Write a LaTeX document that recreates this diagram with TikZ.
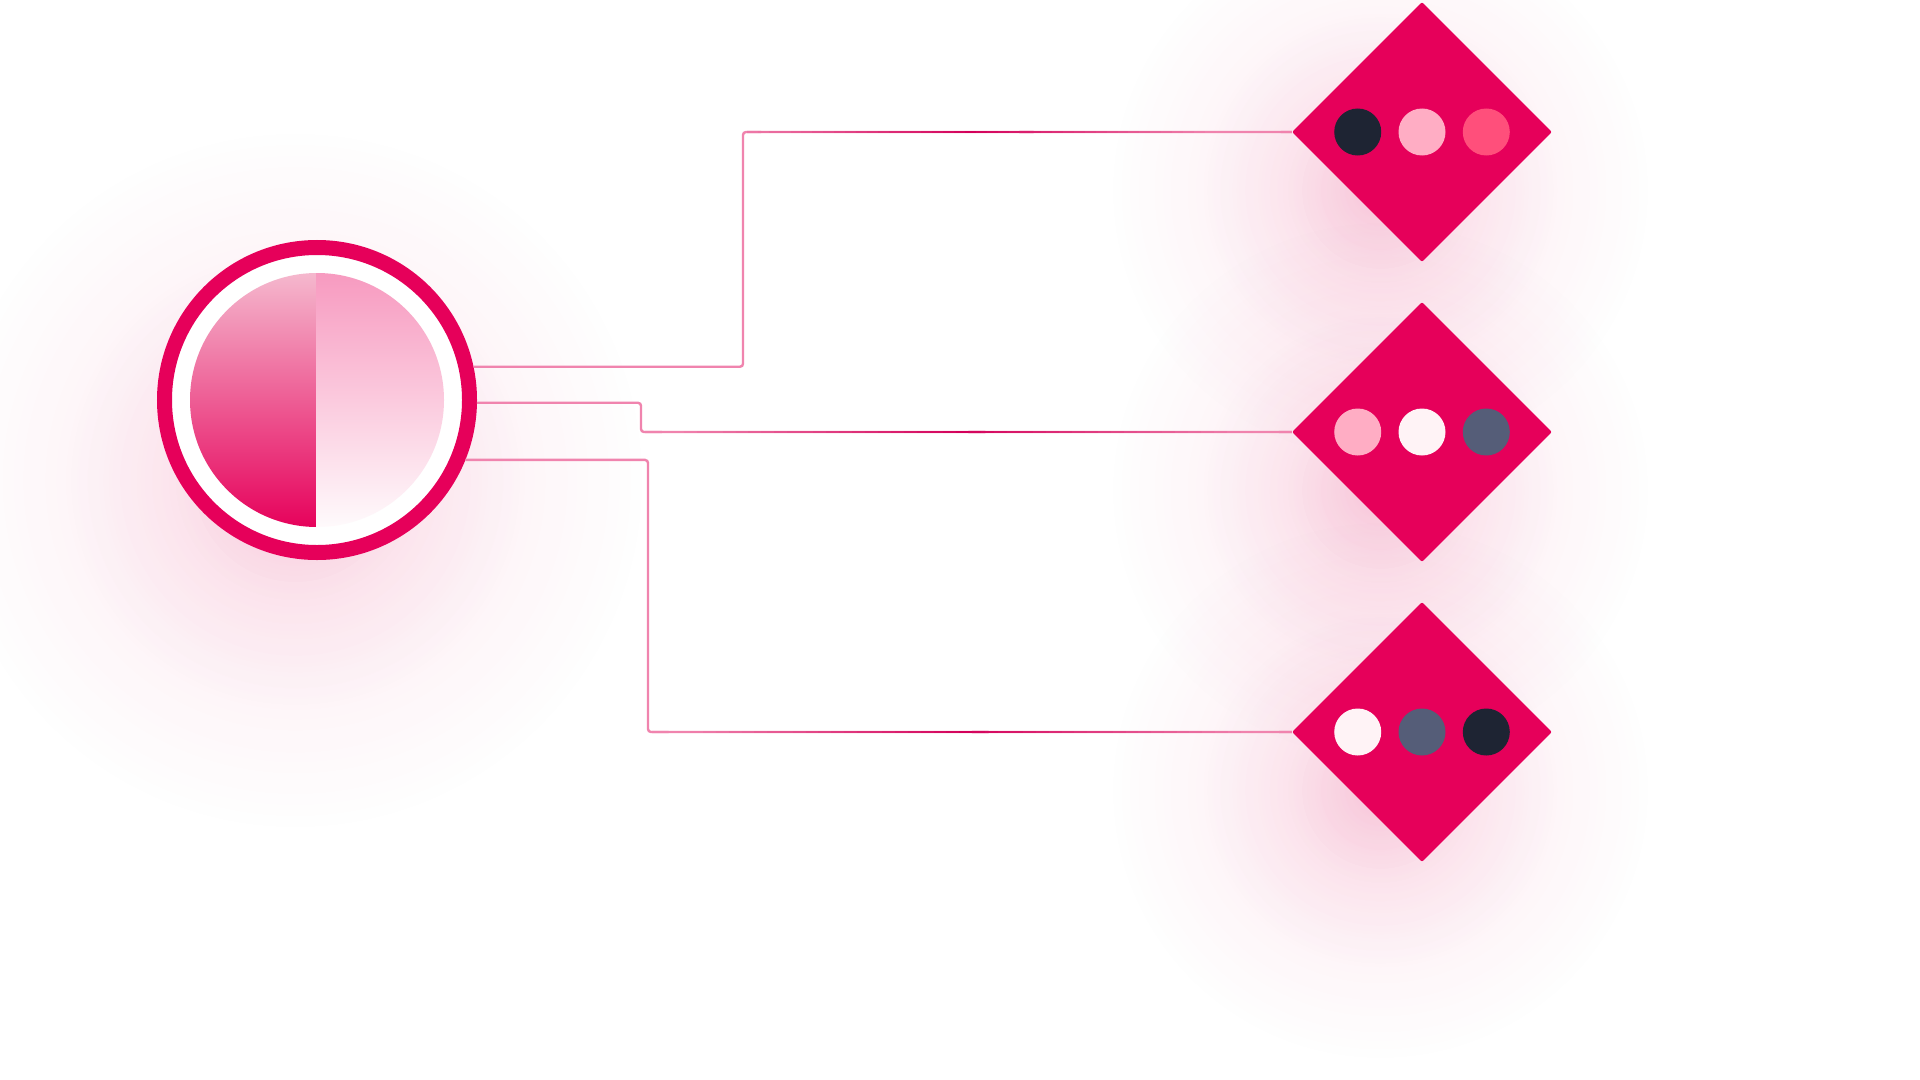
\documentclass[tikz,border=0pt]{standalone}
\usetikzlibrary{shapes.geometric,positioning,calc,fadings}
\definecolor{gemred}{HTML}{E6005A}
\definecolor{navy}{HTML}{1E2433}
\definecolor{blush}{HTML}{FFADC4}
\definecolor{coral}{HTML}{FF4F7B}
\definecolor{snow}{HTML}{FFF3F6}
\definecolor{slate}{HTML}{555D78}
\definecolor{linkpale}{HTML}{F084AE}
\definecolor{linkdeep}{HTML}{D3005A}
\definecolor{glowpink}{HTML}{EC3A7E}
\definecolor{halfpale}{HTML}{F5BACF}
\definecolor{halfmid}{HTML}{EE4F8D}
\definecolor{rosy}{HTML}{F799BF}
\tikzfading[name=glowfade, inner color=transparent!0, outer color=transparent!100]
\newcommand{\softhalo}[2]{%
  \path[halo, fill opacity=0.13] (#1) circle ({#2*1mm});
  \path[halo, fill opacity=0.11] (#1) circle ({0.65*#2*1mm});
  \path[halo, fill opacity=0.08] (#1) circle ({0.35*#2*1mm});}
% darker middle on a long wire run: start, end, step of the darkest spot
\newcommand{\wiretint}[3]{%
  \foreach \t in {0,...,49}{
    \pgfmathtruncatemacro\p{max(0,100-abs(\t-#3)*4.5)}
    \pgfmathsetmacro\u{min(\t+1.3,50)/50}
    \draw[line width=1.2mm, draw=linkdeep!\p!linkpale] ($(#1)!\t/50!(#2)$) -- ($(#1)!\u!(#2)$);
  }}

\begin{document}
\begin{tikzpicture}[x=0.5mm, y=-0.5mm,
  gem/.style={diamond, fill=gemred, minimum width=130mm, minimum height=130mm, inner sep=0pt, rounded corners=1mm},
  pip/.style={circle, minimum size=23.5mm, inner sep=0pt},
  wire/.style={draw=linkpale, line width=1.2mm, rounded corners=1.5mm},
  halo/.style={fill=glowpink, path fading=glowfade}]
\useasboundingbox (0,0) rectangle (1920,1080);
\fill[white] (0,0) rectangle (1920,1080);

% soft glows
\begin{scope}
\clip (0,0) rectangle (1920,1080);
\softhalo{295,480}{175}
\softhalo{1380,190}{135}
\softhalo{1380,490}{135}
\softhalo{1380,790}{135}
\end{scope}

% hub
\node[draw=gemred, fill=white, line width=7.5mm, circle, minimum size=152.5mm, inner sep=0pt] (hub) at (317,400) {};
\begin{scope}
\clip (hub.center) circle (63.5mm);
\shade[top color=halfpale, middle color=halfmid, bottom color=gemred] (185,270) rectangle (316,530);
\shade[top color=rosy, middle color=rosy!90, bottom color=white] (316,270) rectangle (450,540);
\end{scope}

% gems
\node[gem] (g1) at (1422,132) {};
\node[gem] (g2) at (1422,432) {};
\node[gem] (g3) at (1422,732) {};

\node[pip, fill=blush] (g1b) at (g1) {};
\node[pip, fill=navy, left=8.5mm of g1b] (g1a) {};
\node[pip, fill=coral, right=8.5mm of g1b] (g1c) {};

\node[pip, fill=snow] (g2b) at (g2) {};
\node[pip, fill=blush, left=8.5mm of g2b] (g2a) {};
\node[pip, fill=slate, right=8.5mm of g2b] (g2c) {};

\node[pip, fill=slate] (g3b) at (g3) {};
\node[pip, fill=snow, left=8.5mm of g3b] (g3a) {};
\node[pip, fill=navy, right=8.5mm of g3b] (g3c) {};

% wires
\coordinate (k1) at (743,132);
\coordinate (k2) at (641,432);
\coordinate (k3) at (648,732);

\path[wire] (hub.12.6) -| (k1) -- (g1.west);
\path[wire] (hub.-1) -| (k2) -- (g2.west);
\path[wire] (hub.-22) -| (k3) -- (g3.west);

\coordinate (s1) at ($(k1)+(4,0)$);
\coordinate (s2) at ($(k2)+(4,0)$);
\coordinate (s3) at ($(k3)+(4,0)$);
\wiretint{s1}{g1.west}{20}
\wiretint{s2}{g2.west}{24}
\wiretint{s3}{g3.west}{24}
\end{tikzpicture}
\end{document}
